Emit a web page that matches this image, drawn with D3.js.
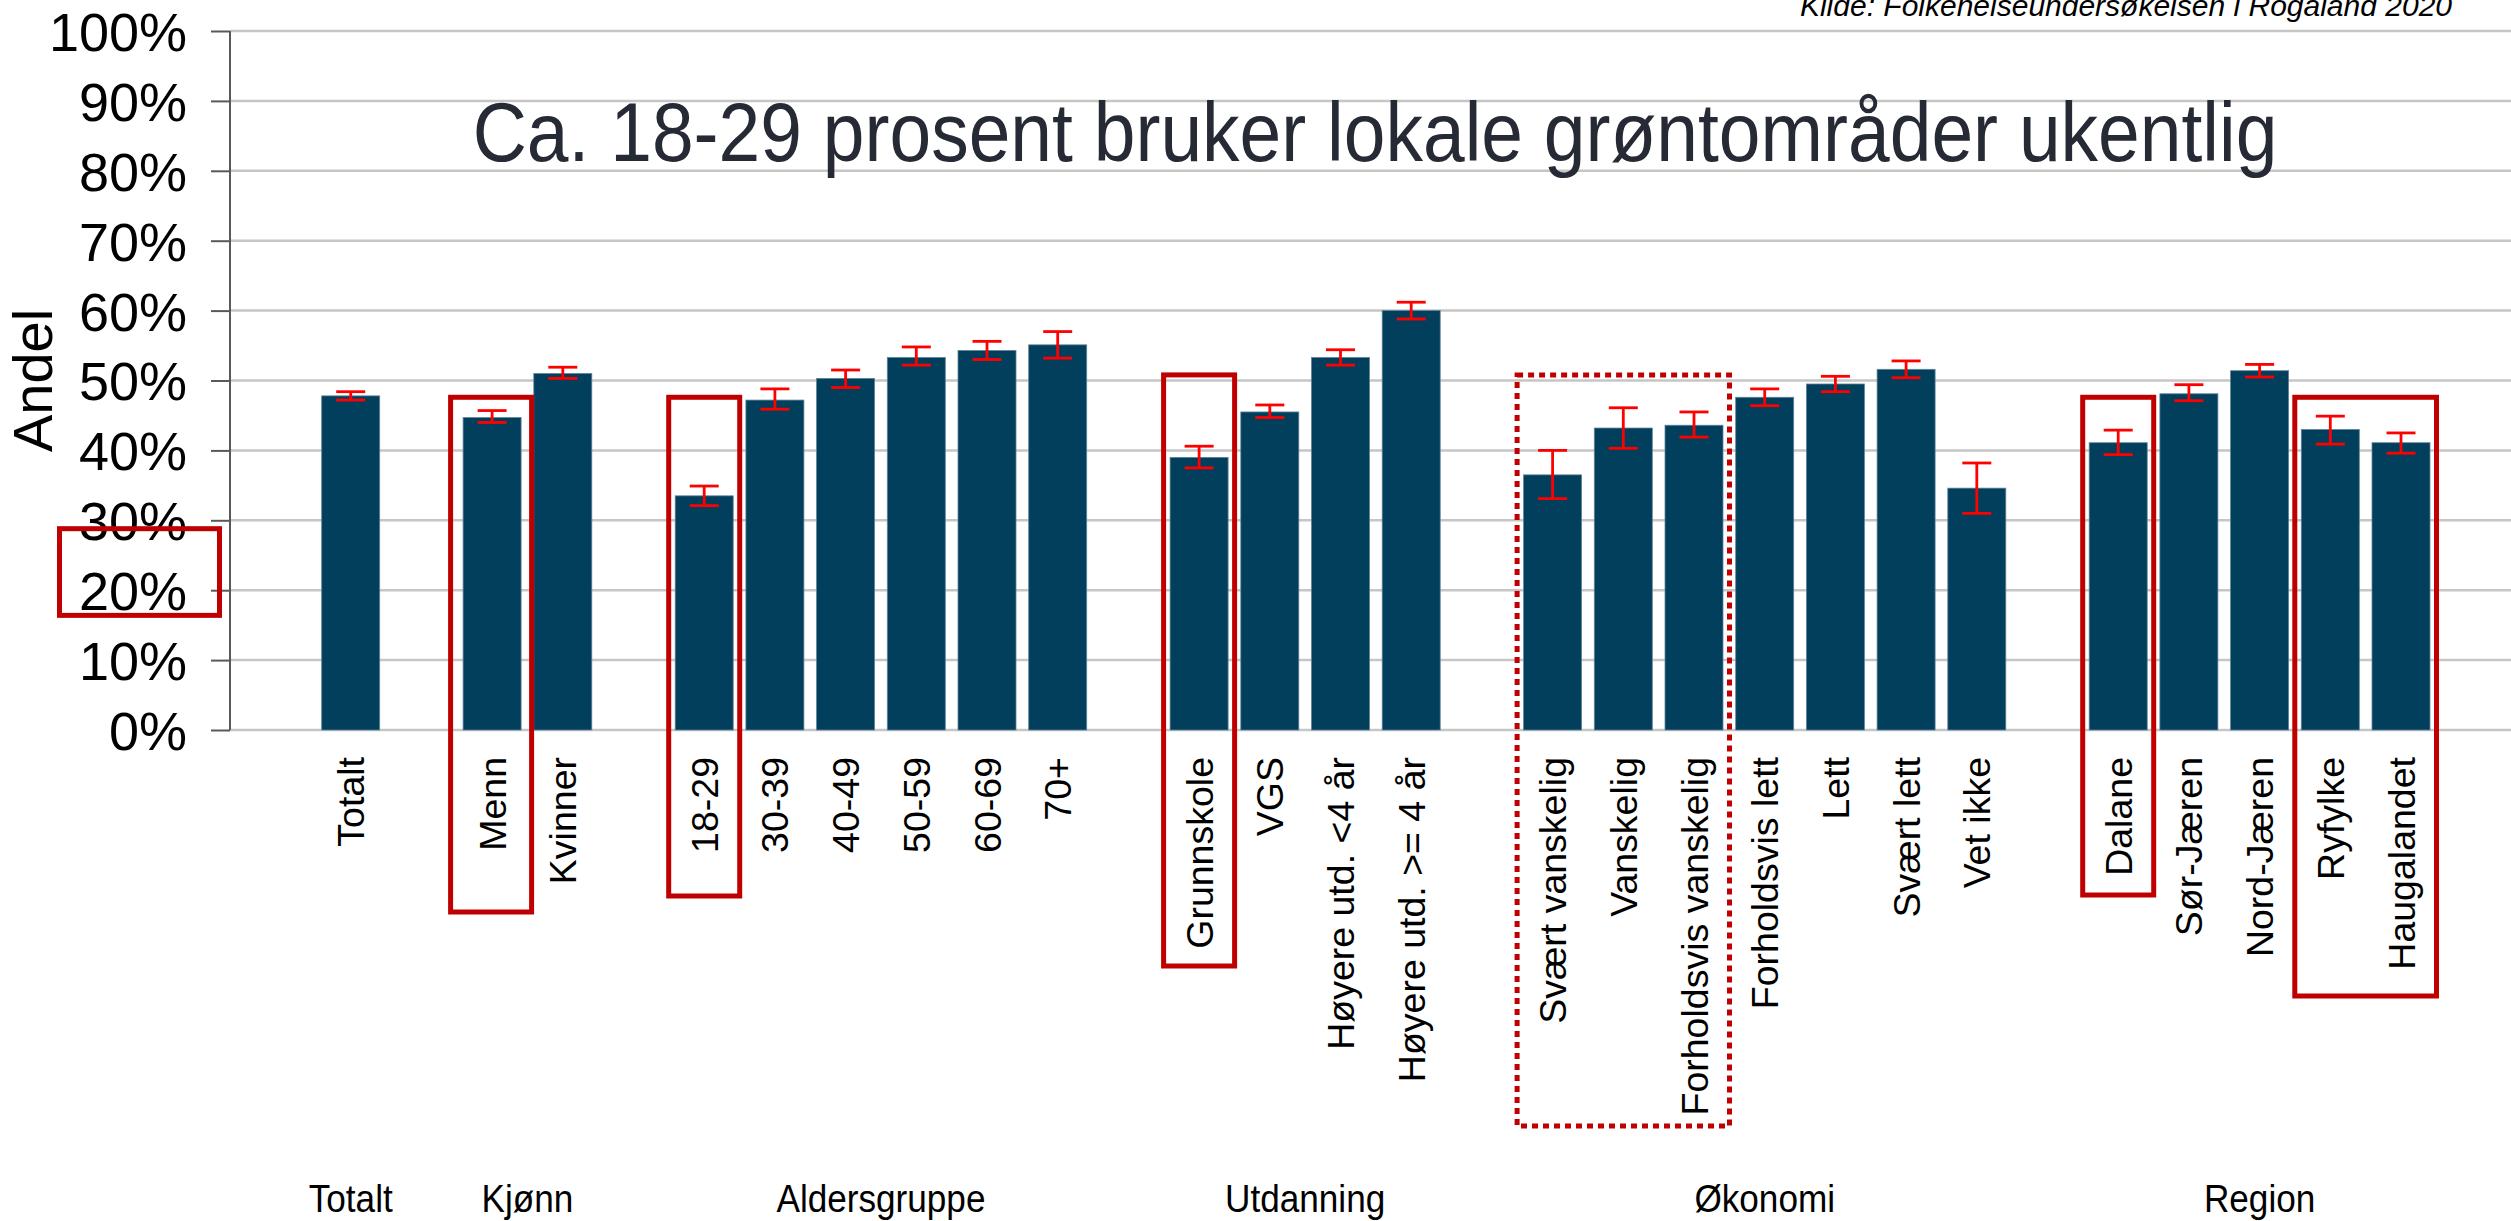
<!DOCTYPE html>
<html>
<head>
<meta charset="utf-8">
<script src="https://cdn.jsdelivr.net/npm/d3@7"></script>
<style>
  html, body { margin: 0; padding: 0; background: #ffffff; }
  svg { display: block; }
</style>
</head>
<body>
<svg id="chart" width="2511" height="1221"></svg>
<script>
// ---------------- DATA ----------------
const categories = ["Totalt","Menn","Kvinner","18-29","30-39","40-49","50-59","60-69","70+",
  "Grunnskole","VGS","Høyere utd. <4 år","Høyere utd. >= 4 år",
  "Svært vanskelig","Vanskelig","Forholdsvis vanskelig","Forholdsvis lett","Lett","Svært lett","Vet ikke",
  "Dalane","Sør-Jæren","Nord-Jæren","Ryfylke","Haugalandet"];
const groups = ["Totalt","Kjønn","Aldersgruppe","Utdanning","Økonomi","Region"];
const groupSizes = [1,2,6,4,7,5];
const values = [47.8,44.7,51.0,33.5,47.2,50.3,53.3,54.3,55.1,
  39.0,45.5,53.3,60.0,
  36.5,43.2,43.6,47.6,49.5,51.6,34.6,
  41.1,48.1,51.4,43.0,41.1];
const errLow = [47.2,44.0,50.3,32.1,45.9,49.0,52.2,53.0,53.2,
  37.5,44.7,52.2,58.8,
  33.1,40.3,41.9,46.4,48.4,50.4,31.0,
  39.4,47.1,50.5,40.9,39.6];
const errHigh = [48.4,45.7,51.9,34.9,48.8,51.5,54.8,55.6,57.0,
  40.6,46.5,54.4,61.2,
  40.0,46.1,45.5,48.8,50.6,52.8,38.2,
  42.9,49.4,52.3,44.9,42.5];
const yTicks = [0,10,20,30,40,50,60,70,80,90,100];
const titleText = "Ca. 18-29 prosent bruker lokale grøntområder ukentlig";
const sourceText = "Kilde: Folkehelseundersøkelsen i Rogaland 2020";
const yLabel = "Andel";
// highlight annotations (category spans)
const boxCats = [["Menn","Menn"],["18-29","18-29"],["Grunnskole","Grunnskole"],
  ["Svært vanskelig","Forholdsvis vanskelig"],["Dalane","Dalane"],["Ryfylke","Haugalandet"]];
const boxTop = [47.6,47.6,50.8,50.8,47.6,47.6];
const boxDrop = [182,166,236,396,165,266];
const boxDotted = [false,false,false,true,false,false];
const axisBox = [16.4, 28.8];

// ---------------- LAYOUT ----------------
const svg = d3.select("#chart");
const axisX = 230, yBottom = 730, yTop = 31;
const y = d3.scaleLinear().domain([0,100]).range([yBottom, yTop]);

// slot index for each category, with one empty slot between groups
const slots = [];
let s = 0;
groupSizes.forEach((n, gi) => {
  for (let k = 0; k < n; k++) slots.push(s++);
  s++;
});
const x = d3.scaleLinear().domain([0, 29]).range([350.7, 2401]);
const catX = c => x(slots[categories.indexOf(c)]);
const barW = 58;

// gridlines
svg.append("g").selectAll("line").data(yTicks).join("line")
  .attr("x1", axisX).attr("x2", 2511)
  .attr("y1", d => y(d)).attr("y2", d => y(d))
  .attr("stroke", "#c6c6c6").attr("stroke-width", 2.5);

// y axis
const yAxis = d3.axisLeft(y).tickValues(yTicks).tickSize(19).tickPadding(24)
  .tickFormat(d => d + "%");
const ga = svg.append("g").attr("transform", `translate(${axisX},0)`).call(yAxis);
ga.select(".domain").attr("stroke", "#595959").attr("stroke-width", 2)
  .attr("d", `M0,${yTop}V${yBottom}`);
ga.selectAll(".tick line").attr("stroke", "#595959").attr("stroke-width", 2);
ga.selectAll(".tick text").attr("font-family", "Liberation Sans, Arial, sans-serif")
  .attr("font-size", 54).attr("fill", "#000").attr("dy", "0.36em");

// y label
svg.append("text").attr("transform", `translate(52,${(yTop + yBottom) / 2}) rotate(-90)`)
  .attr("text-anchor", "middle").attr("font-family", "Liberation Sans, Arial, sans-serif")
  .attr("font-size", 56).attr("fill", "#000").text(yLabel);

// bars
svg.append("g").selectAll("rect").data(categories).join("rect")
  .attr("x", (d) => catX(d) - barW / 2)
  .attr("width", barW)
  .attr("y", (d, i) => y(values[i]))
  .attr("height", (d, i) => y(0) - y(values[i]))
  .attr("fill", "#023f5c").attr("stroke", "#5f8399").attr("stroke-width", 0.8);

// error bars
const eb = svg.append("g").attr("stroke", "#ff0000").attr("stroke-width", 2.8);
categories.forEach((c, i) => {
  const cx = catX(c);
  eb.append("line").attr("x1", cx).attr("x2", cx).attr("y1", y(errLow[i])).attr("y2", y(errHigh[i]));
  eb.append("line").attr("x1", cx - 14.5).attr("x2", cx + 14.5).attr("y1", y(errLow[i])).attr("y2", y(errLow[i]));
  eb.append("line").attr("x1", cx - 14.5).attr("x2", cx + 14.5).attr("y1", y(errHigh[i])).attr("y2", y(errHigh[i]));
});

// category labels
svg.append("g").selectAll("text").data(categories).join("text")
  .attr("transform", d => `translate(${catX(d)},757) rotate(-90)`)
  .attr("text-anchor", "end").attr("dy", "0.36em")
  .attr("font-family", "Liberation Sans, Arial, sans-serif").attr("font-size", 37.5)
  .attr("fill", "#000").text(d => d);

// group labels
let start = 0;
const groupCenters = groupSizes.map(n => {
  const a = slots[start], b = slots[start + n - 1];
  start += n;
  return x((a + b) / 2);
});
svg.append("g").selectAll("text").data(groups).join("text")
  .attr("transform", (d, i) => `translate(${groupCenters[i]},1212) scale(0.95,1.05)`)
  .attr("text-anchor", "middle").attr("font-family", "Liberation Sans, Arial, sans-serif")
  .attr("font-size", 37).attr("fill", "#000").text(d => d);

// title
svg.append("text").attr("transform", "translate(1375,161) scale(1,1.12)").attr("text-anchor", "middle")
  .attr("font-family", "Liberation Sans, Arial, sans-serif").attr("font-size", 75)
  .attr("fill", "#262a35").text(titleText);

// source
svg.append("text").attr("x", 2452).attr("y", 16).attr("text-anchor", "end")
  .attr("font-family", "Liberation Sans, Arial, sans-serif").attr("font-style", "italic")
  .attr("font-size", 30).attr("fill", "#000").text(sourceText);

// highlight boxes
boxCats.forEach((bc, i) => {
  const x0 = catX(bc[0]) - 35.5 - (bc[0] === "Menn" ? 6 : 0);
  const x1 = catX(bc[1]) + 35.5 + (bc[1] === "Menn" ? 4 : 0);
  const t = y(boxTop[i]);
  const b = yBottom + boxDrop[i];
  svg.append("rect").attr("x", x0).attr("y", t).attr("width", x1 - x0).attr("height", b - t)
    .attr("fill", "none").attr("stroke", "#c00000").attr("stroke-width", 5)
    .attr("stroke-dasharray", boxDotted[i] ? "6,5" : null);
});
svg.append("rect").attr("x", 59.5).attr("y", y(axisBox[1])).attr("width", 160)
  .attr("height", y(axisBox[0]) - y(axisBox[1]))
  .attr("fill", "none").attr("stroke", "#c00000").attr("stroke-width", 5);
</script>
</body>
</html>
